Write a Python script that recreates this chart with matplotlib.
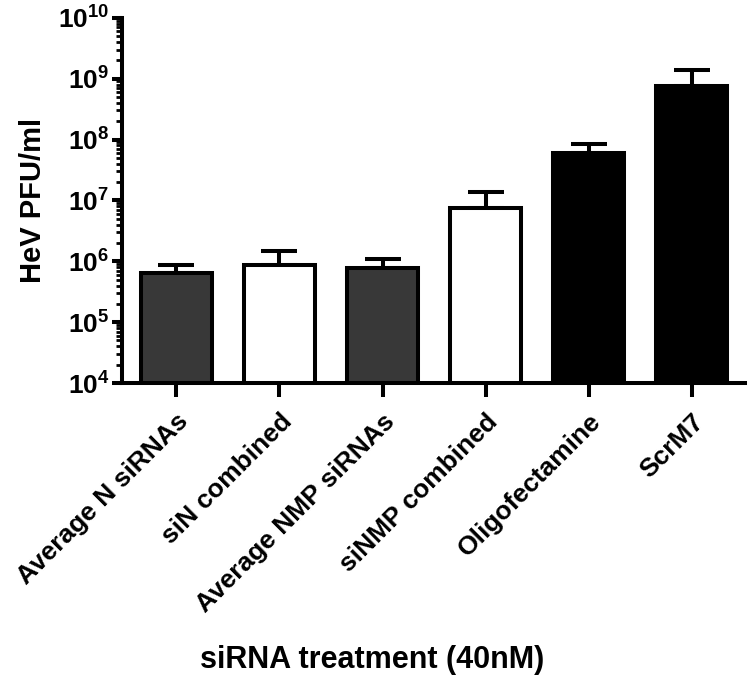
import math
import matplotlib
matplotlib.use('Agg')
import matplotlib.pyplot as plt
from matplotlib.ticker import FuncFormatter, LogLocator, NullFormatter

plt.rcParams['font.family'] = ['Liberation Sans', 'DejaVu Sans']
plt.rcParams['font.weight'] = 'bold'
plt.rcParams['mathtext.fontset'] = 'custom'
plt.rcParams['mathtext.rm'] = 'Liberation Sans:bold'
plt.rcParams['mathtext.bf'] = 'Liberation Sans:bold'

# values
treatments = ['Average N siRNAs', 'siN combined', 'Average NMP siRNAs',
              'siNMP combined', 'Oligofectamine', 'ScrM7']
pfu = [6.4e5, 8.6e5, 7.8e5, 7.6e6, 5.9e7, 7.7e8]
pfu_err = [2.2e5, 6.2e5, 3.0e5, 6.0e6, 2.7e7, 6.2e8]
fills = ['#383838', 'white', '#383838', 'white', 'black', 'black']

LW = 2.9

fig = plt.figure(figsize=(7.52, 6.84), dpi=100)
ax = fig.add_axes([0.162, 0.44, 0.829, 0.534])

x = range(len(treatments))
ax.errorbar(x, pfu, yerr=[[0] * len(pfu), pfu_err], fmt='none', ecolor='black',
            elinewidth=LW, capsize=13, capthick=LW, zorder=1)
ax.bar(x, pfu, width=0.69, color=fills, edgecolor='black', linewidth=LW, zorder=2)

ax.set_yscale('log')
ax.set_ylim(1e4, 1e10)
ax.set_xlim(-0.53, 5.52)

ax.yaxis.set_major_locator(LogLocator(base=10, numticks=10))
ax.yaxis.set_minor_locator(LogLocator(base=10, subs=range(2, 10), numticks=100))
ax.yaxis.set_minor_formatter(NullFormatter())
ax.yaxis.set_major_formatter(FuncFormatter(lambda v, p: r'$\mathbf{10^{%d}}$' % round(math.log10(v))))

for s in ['top', 'right']:
    ax.spines[s].set_visible(False)
for s in ['left', 'bottom']:
    ax.spines[s].set_linewidth(LW)

ax.tick_params(axis='y', which='major', length=7, width=LW, labelsize=19, pad=2)
ax.tick_params(axis='y', which='minor', length=4, width=2)
ax.tick_params(axis='x', which='major', length=10, width=LW, labelsize=19, pad=9)

ax.set_xticks(list(x))
ax.set_xticklabels(treatments, rotation=45, ha='right', va='top',
                   rotation_mode='anchor', fontweight='bold')

ax.set_ylabel('HeV PFU/ml', fontsize=21, fontweight='bold', labelpad=8)
fig.text(0.495, 0.035, 'siRNA treatment (40nM)', ha='center', va='center',
         fontsize=22, fontweight='bold')

fig.savefig('out.png', dpi=100)
